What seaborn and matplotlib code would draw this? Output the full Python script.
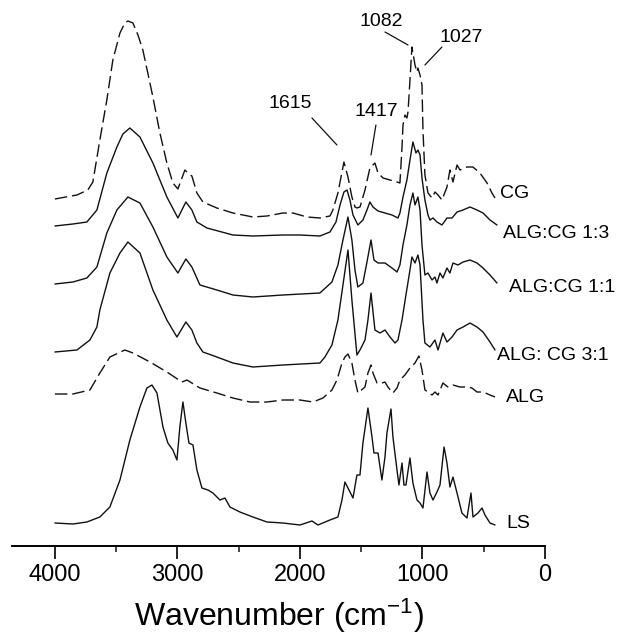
import numpy as np
import pandas as pd
import matplotlib
matplotlib.use("Agg")
import matplotlib.pyplot as plt
import seaborn as sns

# ---------------- data (wavenumber in cm-1, offset absorbance in a.u.) ----------------
cg_wn = [4000, 3820, 3731, 3690, 3633, 3576, 3527, 3469, 3429, 3404, 3363, 3322, 3282, 3200, 3143,
         3086, 3037, 2996, 2939, 2906, 2882, 2841, 2792, 2678, 2547, 2384, 2269, 2139, 2057, 1943,
         1837, 1755, 1731, 1690, 1641, 1608, 1576, 1551, 1535, 1510, 1469, 1429, 1388, 1363, 1322,
         1265, 1208, 1184, 1167, 1159, 1143, 1127, 1118, 1102, 1086, 1061, 1045, 1037, 1020, 1004,
         996, 980, 955, 922, 898, 873, 841, 800, 776, 751, 718, 694, 637, 588, 531, 473, 433, 408]
cg_ab = [3.47, 3.51, 3.56, 3.64, 4.06, 4.46, 4.86, 5.13, 5.23, 5.25, 5.23, 5.11, 4.96, 4.49, 4.13,
         3.83, 3.63, 3.57, 3.76, 3.72, 3.70, 3.53, 3.44, 3.38, 3.33, 3.29, 3.30, 3.33, 3.33, 3.29,
         3.28, 3.30, 3.36, 3.53, 3.84, 3.69, 3.49, 3.39, 3.38, 3.39, 3.56, 3.78, 3.83, 3.73, 3.68,
         3.66, 3.64, 3.63, 3.99, 4.21, 4.31, 4.28, 4.34, 4.66, 4.99, 4.81, 4.74, 4.78, 4.71, 4.61,
         4.16, 3.71, 3.53, 3.48, 3.54, 3.51, 3.46, 3.59, 3.76, 3.64, 3.81, 3.76, 3.79, 3.79, 3.73,
         3.63, 3.53, 3.48]

a13_wn = [4000, 3853, 3739, 3657, 3576, 3494, 3445, 3388, 3306, 3200, 3086, 2996, 2931, 2882, 2841,
          2759, 2547, 2384, 2139, 2000, 1837, 1755, 1706, 1673, 1641, 1616, 1592, 1567, 1527, 1486,
          1453, 1429, 1404, 1363, 1306, 1249, 1200, 1184, 1159, 1127, 1102, 1078, 1053, 1037, 1020,
          1004, 980, 955, 939, 914, 882, 841, 800, 759, 718, 669, 612, 555, 506, 449, 392]
a13_ab = [3.20, 3.22, 3.24, 3.36, 3.73, 3.99, 4.12, 4.18, 4.09, 3.83, 3.49, 3.28, 3.44, 3.36, 3.24,
          3.18, 3.11, 3.10, 3.11, 3.11, 3.10, 3.14, 3.24, 3.41, 3.54, 3.56, 3.46, 3.31, 3.21, 3.26,
          3.36, 3.44, 3.39, 3.35, 3.33, 3.31, 3.28, 3.33, 3.49, 3.66, 3.86, 4.04, 3.93, 3.96, 3.91,
          3.68, 3.46, 3.31, 3.26, 3.28, 3.24, 3.21, 3.28, 3.28, 3.34, 3.36, 3.39, 3.36, 3.33, 3.26,
          3.21]

a11_wn = [4000, 3853, 3739, 3657, 3576, 3494, 3404, 3306, 3200, 3086, 2996, 2931, 2882, 2816, 2678,
          2547, 2384, 2139, 1837, 1739, 1690, 1649, 1608, 1576, 1551, 1527, 1486, 1453, 1420, 1396,
          1363, 1306, 1249, 1208, 1184, 1159, 1127, 1102, 1078, 1061, 1037, 1020, 1004, 980, 955,
          922, 898, 882, 857, 833, 800, 776, 751, 710, 669, 612, 555, 506, 449, 392]
a11_ab = [2.62, 2.64, 2.68, 2.79, 3.13, 3.36, 3.49, 3.43, 3.19, 2.89, 2.73, 2.87, 2.79, 2.61, 2.56,
          2.51, 2.49, 2.51, 2.53, 2.64, 2.81, 3.06, 3.29, 3.06, 2.76, 2.59, 2.63, 2.84, 3.06, 2.86,
          2.83, 2.83, 2.78, 2.74, 2.81, 3.01, 3.21, 3.41, 3.53, 3.41, 3.49, 3.36, 3.01, 2.71, 2.73,
          2.66, 2.69, 2.63, 2.73, 2.68, 2.78, 2.73, 2.83, 2.81, 2.84, 2.86, 2.83, 2.78, 2.71, 2.63]

a31_wn = [4000, 3820, 3714, 3657, 3633, 3551, 3469, 3404, 3306, 3200, 3086, 3004, 2931, 2882, 2841,
          2792, 2678, 2547, 2384, 2139, 1837, 1796, 1739, 1690, 1649, 1608, 1576, 1535, 1510, 1469,
          1445, 1420, 1388, 1347, 1306, 1265, 1224, 1200, 1167, 1135, 1102, 1086, 1061, 1037, 1020,
          996, 980, 939, 898, 873, 833, 800, 759, 718, 669, 612, 555, 506, 449, 408]
a31_ab = [1.94, 1.96, 2.06, 2.19, 2.36, 2.73, 2.93, 3.04, 2.93, 2.56, 2.26, 2.09, 2.24, 2.16, 2.03,
          1.94, 1.89, 1.83, 1.79, 1.81, 1.83, 1.89, 2.01, 2.26, 2.61, 2.96, 2.46, 1.91, 1.96, 2.06,
          2.26, 2.53, 2.16, 2.13, 2.16, 2.09, 2.03, 2.06, 2.26, 2.51, 2.76, 2.89, 2.83, 2.91, 2.81,
          2.26, 2.03, 1.99, 2.06, 1.96, 2.13, 2.04, 2.09, 2.16, 2.19, 2.23, 2.19, 2.14, 2.04, 1.96]

alg_wn = [4000, 3853, 3714, 3633, 3551, 3429, 3363, 3224, 3086, 2963, 2922, 2816, 2678, 2547, 2408,
          2269, 2139, 2000, 1894, 1812, 1739, 1698, 1657, 1633, 1608, 1576, 1551, 1527, 1469, 1445,
          1420, 1404, 1371, 1331, 1306, 1282, 1241, 1208, 1184, 1143, 1102, 1061, 1029, 1004, 980,
          955, 922, 898, 873, 833, 792, 751, 694, 637, 596, 555, 506, 449, 408]
alg_ab = [1.52, 1.52, 1.56, 1.73, 1.89, 1.96, 1.93, 1.84, 1.74, 1.64, 1.66, 1.58, 1.53, 1.48, 1.44,
          1.44, 1.46, 1.46, 1.44, 1.48, 1.56, 1.66, 1.83, 1.89, 1.92, 1.83, 1.66, 1.53, 1.59, 1.73,
          1.81, 1.73, 1.63, 1.63, 1.64, 1.59, 1.53, 1.58, 1.66, 1.71, 1.78, 1.83, 1.90, 1.76, 1.56,
          1.54, 1.51, 1.54, 1.51, 1.63, 1.59, 1.61, 1.59, 1.59, 1.58, 1.54, 1.54, 1.51, 1.49]

ls_wn = [4000, 3853, 3739, 3633, 3551, 3469, 3388, 3306, 3249, 3208, 3167, 3118, 3078, 3037, 3004,
         2980, 2955, 2931, 2906, 2873, 2841, 2800, 2751, 2710, 2653, 2612, 2571, 2490, 2384, 2269,
         2139, 2000, 1902, 1853, 1755, 1690, 1657, 1633, 1608, 1567, 1535, 1510, 1486, 1445, 1412,
         1396, 1363, 1331, 1306, 1290, 1257, 1241, 1208, 1192, 1167, 1151, 1135, 1102, 1078, 1045,
         1020, 996, 963, 939, 914, 882, 857, 824, 800, 776, 751, 718, 678, 637, 604, 588, 547,
         514, 490, 449, 408]
ls_ab = [0.23, 0.22, 0.24, 0.29, 0.39, 0.66, 1.06, 1.39, 1.58, 1.61, 1.53, 1.19, 1.03, 0.96, 0.86,
         1.19, 1.44, 1.23, 1.03, 1.01, 0.76, 0.58, 0.56, 0.53, 0.46, 0.48, 0.39, 0.34, 0.29, 0.24,
         0.23, 0.21, 0.25, 0.21, 0.26, 0.29, 0.46, 0.64, 0.58, 0.48, 0.71, 0.71, 1.03, 1.38, 1.09,
         0.93, 0.93, 0.66, 0.89, 1.13, 1.37, 1.09, 0.76, 0.61, 0.83, 0.61, 0.61, 0.88, 0.63, 0.46,
         0.43, 0.38, 0.74, 0.53, 0.46, 0.54, 0.61, 0.99, 0.83, 0.59, 0.69, 0.53, 0.33, 0.28, 0.53,
         0.29, 0.33, 0.38, 0.31, 0.23, 0.21]

series_names = ["CG", "ALG:CG 1:3", "ALG:CG 1:1", "ALG: CG 3:1", "ALG", "LS"]
series_wn = [cg_wn, a13_wn, a11_wn, a31_wn, alg_wn, ls_wn]
series_ab = [cg_ab, a13_ab, a11_ab, a31_ab, alg_ab, ls_ab]
series_dashed = [True, False, False, False, True, False]

# label anchor (wavenumber, value) for each curve name
label_wn = [367, 343, 294, 392, 318, 318]
label_ab = [3.53, 3.13, 2.58, 1.91, 1.49, 0.23]

# peak annotations: text, text position, leader line start/end
peak_text = ["1615", "1417", "1082", "1027"]
peak_text_wn = [2082, 1380, 1339, 680]
peak_text_ab = [4.42, 4.35, 5.25, 5.09]
peak_line_wn0 = [1902, 1380, 1306, 841]
peak_line_ab0 = [4.28, 4.21, 5.14, 4.99]
peak_line_wn1 = [1698, 1420, 1118, 980]
peak_line_ab1 = [4.01, 3.91, 5.01, 4.81]

x_ticks = [4000, 3000, 2000, 1000, 0]

# ---------------- plotting ----------------
sns.set_style("white")
plt.rcParams["font.family"] = ["Liberation Sans", "DejaVu Sans"]
plt.rcParams["mathtext.fontset"] = "custom"
plt.rcParams["mathtext.rm"] = "Liberation Sans"
plt.rcParams["mathtext.it"] = "Liberation Sans:italic"
plt.rcParams["mathtext.bf"] = "Liberation Sans:bold"

fig = plt.figure(figsize=(6.22, 6.37), dpi=100)
ax = fig.add_axes([12 / 622, 91 / 637, 533 / 622, 546 / 637])

for name, wn, ab, dashed in zip(series_names, series_wn, series_ab, series_dashed):
    df = pd.DataFrame({"wavenumber": wn, "absorbance": ab})
    sns.lineplot(data=df, x="wavenumber", y="absorbance", ax=ax, color="#111111",
                 linewidth=1.0, linestyle=(0, (9, 3.5)) if dashed else "-",
                 estimator=None, sort=False)

for name, lx, ly in zip(series_names, label_wn, label_ab):
    ax.text(lx, ly, name, fontsize=14, ha="left", va="center", color="black")

for t, tx, ty, x0, y0, x1, y1 in zip(peak_text, peak_text_wn, peak_text_ab,
                                      peak_line_wn0, peak_line_ab0, peak_line_wn1, peak_line_ab1):
    ax.text(tx, ty, t, fontsize=14, ha="center", va="center", color="black")
    ax.plot([x0, x1], [y0, y1], color="#111111", linewidth=0.9)

ax.set_xlim(4350, 0)
ax.set_ylim(0, 5.46)
ax.set_xticks(x_ticks)
ax.set_xticks([3500, 2500, 1500, 500], minor=True)
ax.set_yticks([])
for side in ["top", "left", "right"]:
    ax.spines[side].set_visible(False)
ax.spines["bottom"].set_linewidth(1.4)
ax.spines["bottom"].set_color("black")
ax.tick_params(axis="x", which="major", direction="out", length=9, width=1.2,
               labelsize=17, pad=4, bottom=True, colors="black")
ax.tick_params(axis="x", which="minor", direction="out", length=4, width=1.2, bottom=True)
ax.set_xlabel("Wavenumber (cm$^{\\mathregular{-1}}$)", fontsize=23, labelpad=8, color="black")
ax.set_ylabel("")
ax.patch.set_alpha(0)

fig.savefig("out.png", dpi=100)
